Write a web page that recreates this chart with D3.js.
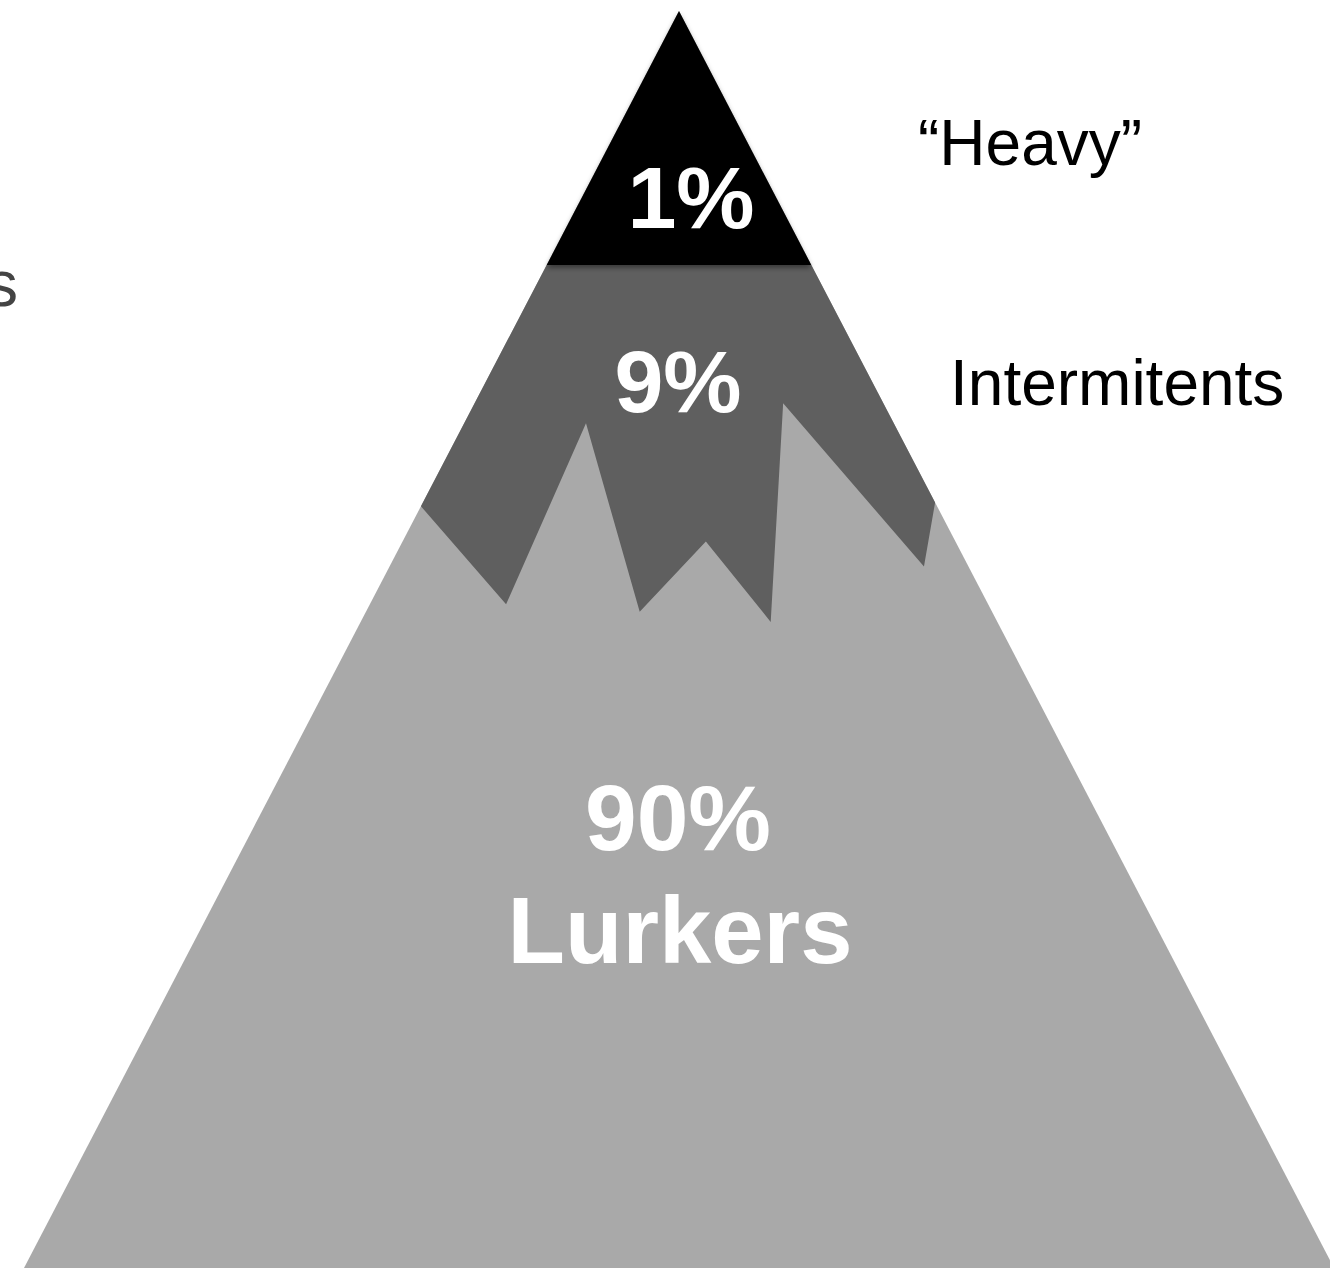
<!DOCTYPE html>
<html>
<head>
<meta charset="utf-8">
<script src="https://cdn.jsdelivr.net/npm/d3@7"></script>
<style>
  html, body { margin: 0; padding: 0; background: #fff; overflow: hidden; }
  svg { display: block; }
</style>
</head>
<body>
<div id="chart"></div>
<script>
(function(){
    /* data */
    // tiers from top of the pyramid to the bottom
    const shares = ["1%", "9%", "90%"];
    const tierNames = ["\u201cHeavy\u201d", "Intermitents", "Lurkers"];
    const tierColors = ["#000000", "#5f5f5f", "#a9a9a9"];
    // depth (0 = apex, 1 = base) where the black cap ends
    const capDepth = 0.202;
    // jagged border between the 9% and 90% layers: [across, depth]
    // across: -1 = left end of the base, 1 = right end
    const ridge = [
      [-0.394, 0.394], [-0.264, 0.472], [-0.142, 0.328], [-0.060, 0.478],
      [0.041, 0.422], [0.140, 0.486], [0.159, 0.312], [0.374, 0.442],
      [0.391, 0.391]
    ];

    /* configuration */
    const W = 1330, H = 1268;
    const apexX = 679, apexY = 11, halfBase = 655;

    const x = d3.scaleLinear().domain([-1, 1]).range([apexX - halfBase, apexX + halfBase]);
    const y = d3.scaleLinear().domain([0, 1]).range([apexY, H]);
    const line = d3.line().x(d => x(d[0])).y(d => y(d[1]));
    const closed = pts => line(pts) + "Z";

    const svg = d3.select("#chart").append("svg")
      .attr("width", W)
      .attr("height", H)
      .attr("font-family", "'Liberation Sans', Arial, Helvetica, sans-serif");

    const defs = svg.append("defs");
    defs.append("filter")
      .attr("id", "shadow")
      .attr("x", "-10%").attr("y", "-10%")
      .attr("width", "120%").attr("height", "130%")
      .append("feDropShadow")
      .attr("dx", 0).attr("dy", 3)
      .attr("stdDeviation", 2.5)
      .attr("flood-color", "#000")
      .attr("flood-opacity", 0.4);

    // whole pyramid (lurkers)
    svg.append("path")
      .attr("d", closed([[0, 0], [-1, 1], [1, 1]]))
      .attr("fill", tierColors[2]);

    // intermittent layer, with the jagged bottom edge
    const midPts = [[-capDepth, capDepth], [capDepth, capDepth]]
      .concat(ridge.slice().reverse());
    svg.append("path")
      .attr("d", closed(midPts))
      .attr("fill", tierColors[1]);

    // heavy cap
    svg.append("path")
      .attr("d", closed([[0, 0], [-capDepth, capDepth], [capDepth, capDepth]]))
      .attr("fill", tierColors[0])
      .attr("filter", "url(#shadow)");

    // share labels inside the pyramid
    const inner = [
      {t: shares[0], x: 691, y: 228, size: 88},
      {t: shares[1], x: 678, y: 412, size: 88},
      {t: shares[2], x: 678, y: 850, size: 93},
      {t: tierNames[2], x: 680, y: 963, size: 94}
    ];
    svg.selectAll("text.share")
      .data(inner)
      .join("text")
      .attr("class", "share")
      .attr("x", d => d.x)
      .attr("y", d => d.y)
      .attr("text-anchor", "middle")
      .attr("font-weight", "bold")
      .attr("font-size", d => d.size)
      .attr("fill", "#ffffff")
      .text(d => d.t);

    // tier names to the right
    const outer = [
      {t: tierNames[0], x: 918, y: 165},
      {t: tierNames[1], x: 950, y: 405}
    ];
    svg.selectAll("text.tier")
      .data(outer)
      .join("text")
      .attr("class", "tier")
      .attr("x", d => d.x)
      .attr("y", d => d.y)
      .attr("font-size", 64)
      .attr("fill", "#000")
      .text(d => d.t);

    // label cut off at the left edge, as in the original slide
    svg.append("text")
      .attr("x", 18)
      .attr("y", 306)
      .attr("text-anchor", "end")
      .attr("font-size", 64)
      .attr("fill", "#444")
      .text("s");
})();
</script>
</body>
</html>
